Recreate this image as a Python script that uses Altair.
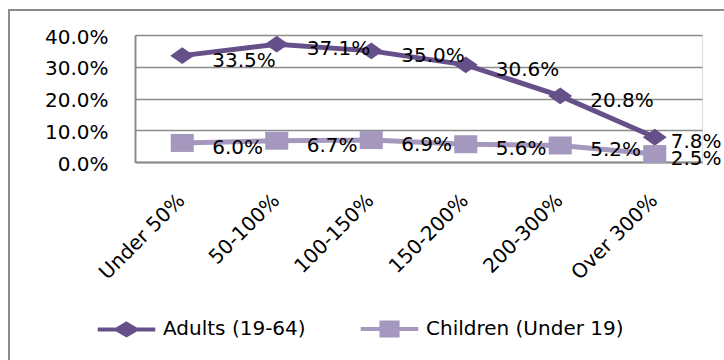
import altair as alt
import pandas as pd

# Share of each income band (as % of poverty level), by age group
categories = ["Under 50%", "50-100%", "100-150%", "150-200%", "200-300%", "Over 300%"]
adults = [33.5, 37.1, 35.0, 30.6, 20.8, 7.8]
children = [6.0, 6.7, 6.9, 5.6, 5.2, 2.5]
series_names = ["Adults (19-64)", "Children (Under 19)"]
series_colors = ["#66508A", "#A598BE"]

rows = []
for name, vals in zip(series_names, [adults, children]):
    for band, v in zip(categories, vals):
        rows.append({"band": band, "series": name, "pct": v / 100})
df = pd.DataFrame(rows)

FONT = "DejaVu Sans"
GRID = "#8c8c8c"

# marker outlines in unit coordinates (scaled by sqrt(size)/2)
DIAMOND = "M0,-0.7L1,0L0,0.7L-1,0Z"
SQUARE = "M-0.96,-0.75H0.96V0.75H-0.96Z"
# legend keys: a short line segment through the marker
KEY_DIAMOND = "M-2.5,0H2.5M0,-0.5L0.85,0L0,0.5L-0.85,0Z"
KEY_SQUARE = "M-2.5,0H2.5M-0.7,-0.57H0.7V0.57H-0.7Z"

x_enc = alt.X(
    "band:N",
    sort=categories,
    scale=alt.Scale(type="point", padding=0.5),
    title=None,
    axis=alt.Axis(
        labelAngle=-45,
        labelAlign="right",
        labelBaseline="top",
        labelPadding=28,
        labelOffset=-8,
        tickSize=0,
        ticks=False,
        grid=False,
        domainColor=GRID,
        domainWidth=2,
        labelFont=FONT,
        labelFontSize=20,
        labelColor="#000000",
    ),
)
y_enc = alt.Y(
    "pct:Q",
    scale=alt.Scale(domain=[0, 0.4]),
    title=None,
    axis=alt.Axis(
        values=[0, 0.1, 0.2, 0.3, 0.4],
        format=".1%",
        tickSize=0,
        ticks=False,
        labelPadding=27,
        labelOffset=2,
        grid=True,
        gridColor=GRID,
        gridWidth=1.5,
        domainColor=GRID,
        domainWidth=2,
        labelFont=FONT,
        labelFontSize=20,
        labelColor="#000000",
    ),
)

base = alt.Chart(df).encode(x=x_enc, y=y_enc)

layers = []
for name, color, shape in zip(series_names, series_colors, [DIAMOND, SQUARE]):
    sub = base.transform_filter(alt.datum.series == name)
    layers.append(sub.mark_line(color=color, strokeWidth=5))
    layers.append(
        sub.mark_point(shape=shape, size=576, filled=True, color=color, opacity=1, strokeWidth=0)
    )

label_common = dict(align="left", baseline="middle", dy=5, font=FONT, fontSize=20, color="#000000")
labels_main = base.transform_filter(alt.datum.band != "Over 300%").mark_text(dx=30, **label_common).encode(
    text=alt.Text("pct:Q", format=".1%")
)
labels_last = base.transform_filter(alt.datum.band == "Over 300%").mark_text(dx=16, **label_common).encode(
    text=alt.Text("pct:Q", format=".1%")
)

legend_props = dict(
    title=None,
    orient="none",
    legendX=-22,
    legendY=280,
    direction="horizontal",
    symbolSize=529,
    symbolStrokeWidth=4,
    labelFont=FONT,
    labelFontSize=20,
    labelColor="#000000",
    labelOffset=23,
    labelLimit=0,
    columnPadding=46,
)
color_scale = alt.Scale(domain=series_names, range=series_colors)
legend_keys = (
    base.transform_filter(alt.datum.pct < 0)
    .mark_point(filled=True, opacity=1, strokeWidth=4)
    .encode(
        fill=alt.Fill("series:N", scale=color_scale, legend=alt.Legend(**legend_props)),
        stroke=alt.Stroke("series:N", scale=color_scale, legend=alt.Legend(**legend_props)),
        shape=alt.Shape(
            "series:N",
            scale=alt.Scale(domain=series_names, range=[KEY_DIAMOND, KEY_SQUARE]),
            legend=alt.Legend(**legend_props),
        ),
    )
)

# outer chart border
frame = (
    alt.Chart(alt.Data(values=[{}]))
    .mark_rect(fillOpacity=0, stroke=GRID, strokeWidth=2, clip=False)
    .encode(x=alt.value(-126), x2=alt.value(640), y=alt.value(-25), y2=alt.value(400))
)

chart = (
    alt.layer(frame, *layers, labels_main, labels_last, legend_keys)
    .properties(
        width=567,
        height=127,
        autosize=alt.AutoSizeParams(type="none"),
        padding={"left": 135, "top": 35, "right": 22, "bottom": 198},
    )
    .configure_view(strokeWidth=0)
    .configure(background="#ffffff")
)

chart.save("out.html", embed_options={"renderer": "svg", "actions": False})
